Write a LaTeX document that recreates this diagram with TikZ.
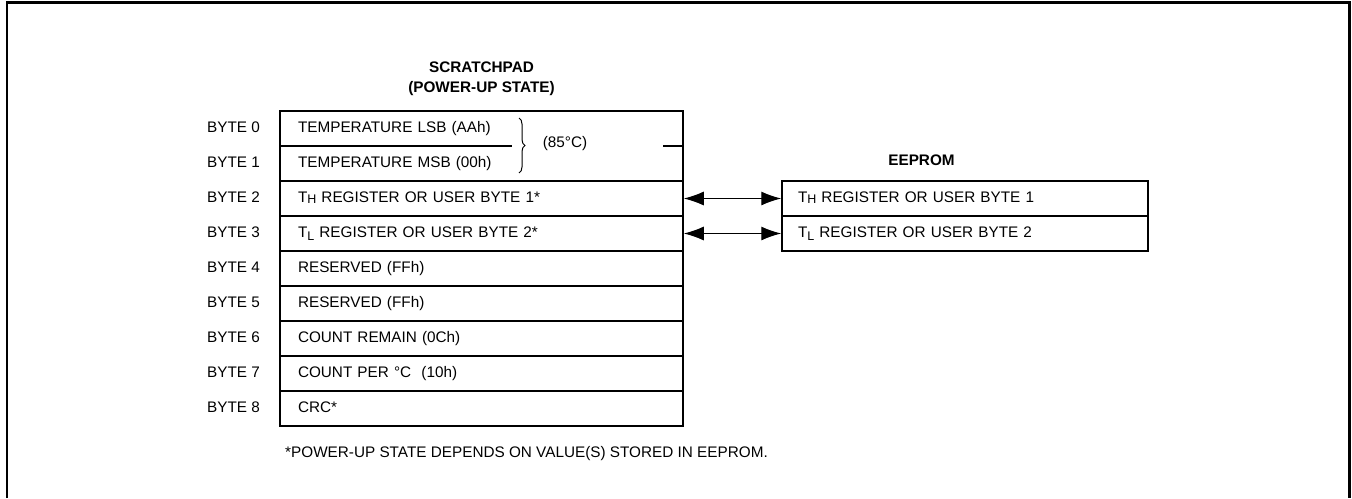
\documentclass[tikz,border=0pt]{standalone}
\usepackage{fontspec}
\setmainfont{Liberation Sans}
\usetikzlibrary{arrows.meta,decorations.pathreplacing}
\newcommand\lowsub[2]{{\fontsize{12.5pt}{12.5pt}\selectfont\raisebox{-#1}{#2}}}
\begin{document}
\begin{tikzpicture}[x=1pt,y=-1pt,
  every node/.style={font=\fontsize{15.3pt}{18pt}\selectfont, inner sep=0pt},
  box/.style={line width=1.5pt},
  cell/.style={minimum width=403pt, minimum height=35pt, text width=367pt,
    inner xsep=18pt, inner ysep=0pt, align=left, text height=11pt, text depth=3pt},
  drawncell/.style={cell, draw, line width=1.5pt},
  ecell/.style={draw, line width=1.5pt, minimum width=366pt, minimum height=35pt,
    text width=334pt, inner xsep=16pt, inner ysep=0pt, align=left,
    text height=11pt, text depth=3pt},
  lbl/.style={text height=11pt, text depth=3pt},
  ttl/.style={font=\fontsize{15.3pt}{18pt}\selectfont\bfseries, anchor=base},
  frame/.style={line width=2.5pt},
  dbl/.style={line width=1.2pt, {Latex[length=20pt,width=14pt]}-{Latex[length=20pt,width=14pt]}}
]
\useasboundingbox (0,0) rectangle (1352,498);
\draw[frame] (7,498) -- (7,2.5) -- (1349.5,2.5) -- (1349.5,498);

% titles
\node[ttl] (sp1) at (481.5,72.5) {SCRATCHPAD};
\node[ttl] (sp2) at (481.5,92) {(POWER-UP STATE)};
\node[ttl] (ee) at (921.5,165.5) {EEPROM};

% scratchpad rows
\node[cell] (r0) at (481.5,128.5) {TEMPERATURE LSB (AAh)};
\node[cell] (r1) at (481.5,163.5) {TEMPERATURE MSB (00h)};
\node[drawncell] (r2) at (481.5,198.5) {T\lowsub{0.7pt}{H} REGISTER OR USER BYTE 1*};
\node[drawncell] (r3) at (481.5,233.5) {T\lowsub{2.5pt}{L} REGISTER OR USER BYTE 2*};
\node[drawncell] (r4) at (481.5,268.5) {RESERVED (FFh)};
\node[drawncell] (r5) at (481.5,303.5) {RESERVED (FFh)};
\node[drawncell] (r6) at (481.5,338.5) {COUNT REMAIN (0Ch)};
\node[drawncell] (r7) at (481.5,373.5) {COUNT PER °C\ \ (10h)};
\node[drawncell] (r8) at (481.5,408.5) {CRC*};

\draw[box] (r1.south west) -- (r0.north west) -- (r0.north east) -- (r1.south east);
\draw[box] (r0.south west) -- ++(232,0);
\draw[box] (r0.south east) -- ++(-20,0);

% brace and 85C
\coordinate (bt) at (519,118);
\coordinate (bb) at (519,173);
\draw[line width=1pt, decorate, decoration={brace, amplitude=6pt}] (bt) -- (bb);
\node[lbl] (t85) at (565,143.5) {(85°C)};

% byte labels
\foreach \i in {0,...,8} {
  \node[lbl] (b\i) at (233.5,128.5+35*\i) {BYTE \i};
}

% eeprom
\node[ecell] (e1) at (965,198.5) {T\lowsub{0.7pt}{H} REGISTER OR USER BYTE 1};
\node[ecell] (e2) at (965,233.5) {T\lowsub{2.5pt}{L} REGISTER OR USER BYTE 2};

\draw[dbl] (r2.east) -- (e1.west);
\draw[dbl] (r3.east) -- (e2.west);

% footnote
\node[anchor=base west] (fn) at (285,457) {*POWER-UP STATE DEPENDS ON VALUE(S) STORED IN EEPROM.};
\end{tikzpicture}
\end{document}
